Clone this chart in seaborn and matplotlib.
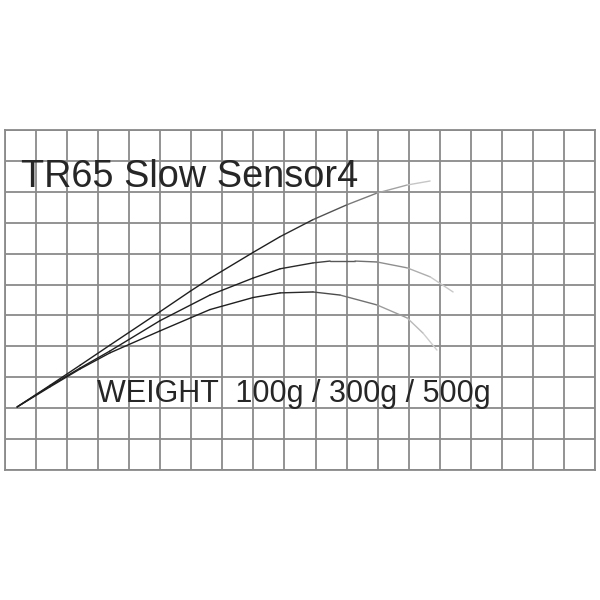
import numpy as np
import pandas as pd
import matplotlib
matplotlib.use("Agg")
import matplotlib.pyplot as plt
import seaborn as sns

# ---- data (grid units: 19 columns x 11 rows) ----
weights = ["100g", "300g", "500g"]
x_100 = [0.39, 1.45, 2.42, 3.38, 4.99, 5.96, 6.60, 7.99, 8.86, 9.92, 11.01, 11.98, 12.95, 13.69]
y_100 = [2.04, 2.74, 3.39, 4.04, 5.12, 5.78, 6.20, 7.04, 7.55, 8.10, 8.58, 8.96, 9.22, 9.35]
x_300 = [0.39, 1.45, 2.42, 3.38, 4.99, 6.60, 7.99, 8.86, 9.92, 10.47, 11.27, 11.98, 12.95, 13.69, 14.43]
y_300 = [2.04, 2.72, 3.30, 3.85, 4.83, 5.66, 6.21, 6.51, 6.70, 6.76, 6.76, 6.73, 6.54, 6.25, 5.76]
x_500 = [0.39, 1.45, 2.42, 3.38, 4.99, 6.60, 7.99, 8.86, 9.92, 10.79, 11.98, 12.95, 13.46, 13.91]
y_500 = [2.04, 2.69, 3.27, 3.79, 4.50, 5.19, 5.58, 5.73, 5.76, 5.66, 5.34, 4.92, 4.43, 3.88]
title_text = "TR65 Slow Sensor4"
weight_text = "WEIGHT  100g / 300g / 500g"
n_cols, n_rows = 19, 11

curves = {"100g": (x_100, y_100), "300g": (x_300, y_300), "500g": (x_500, y_500)}

rows = []
palette = {}
for name, (xs, ys) in curves.items():
    x_end = xs[-1]
    for i in range(len(xs) - 1):
        seg = f"{name}-{i}"
        rows.append({"seg": seg, "x": xs[i], "y": ys[i]})
        rows.append({"seg": seg, "x": xs[i + 1], "y": ys[i + 1]})
        xm = 0.5 * (xs[i] + xs[i + 1])
        t = np.clip((xm - 9.0) / (x_end - 9.0), 0, 1)
        g = 0.12 + 0.72 * t ** 1.1
        palette[seg] = (g, g, g)
df = pd.DataFrame(rows)

sns.set_style("white")
plt.rcParams["font.family"] = ["Liberation Sans", "DejaVu Sans"]

fig = plt.figure(figsize=(6, 6), dpi=100)
ax = fig.add_axes([5 / 600, 130 / 600, 590 / 600, 340 / 600])

sns.lineplot(data=df, x="x", y="y", hue="seg", palette=palette,
             estimator=None, sort=False, legend=False, linewidth=1.0,
             solid_capstyle="round", ax=ax)

ax.set_xlim(0, n_cols)
ax.set_ylim(0, n_rows)
ax.set_xticks(range(n_cols + 1))
ax.set_yticks(range(n_rows + 1))
ax.grid(True, color="#8a8a8a", linewidth=1.3)
ax.set_axisbelow(True)
ax.tick_params(length=0, labelbottom=False, labelleft=False)
ax.set_xlabel("")
ax.set_ylabel("")
for s in ax.spines.values():
    s.set_color("#8a8a8a")
    s.set_linewidth(1.3)

ax.text(0.50, 9.16, title_text, fontsize=27.3, color="#262626",
        ha="left", va="baseline")
ax.text(2.96, 2.2, weight_text, fontsize=22, color="#262626",
        ha="left", va="baseline")

fig.savefig("out.png", dpi=100, facecolor="white")
